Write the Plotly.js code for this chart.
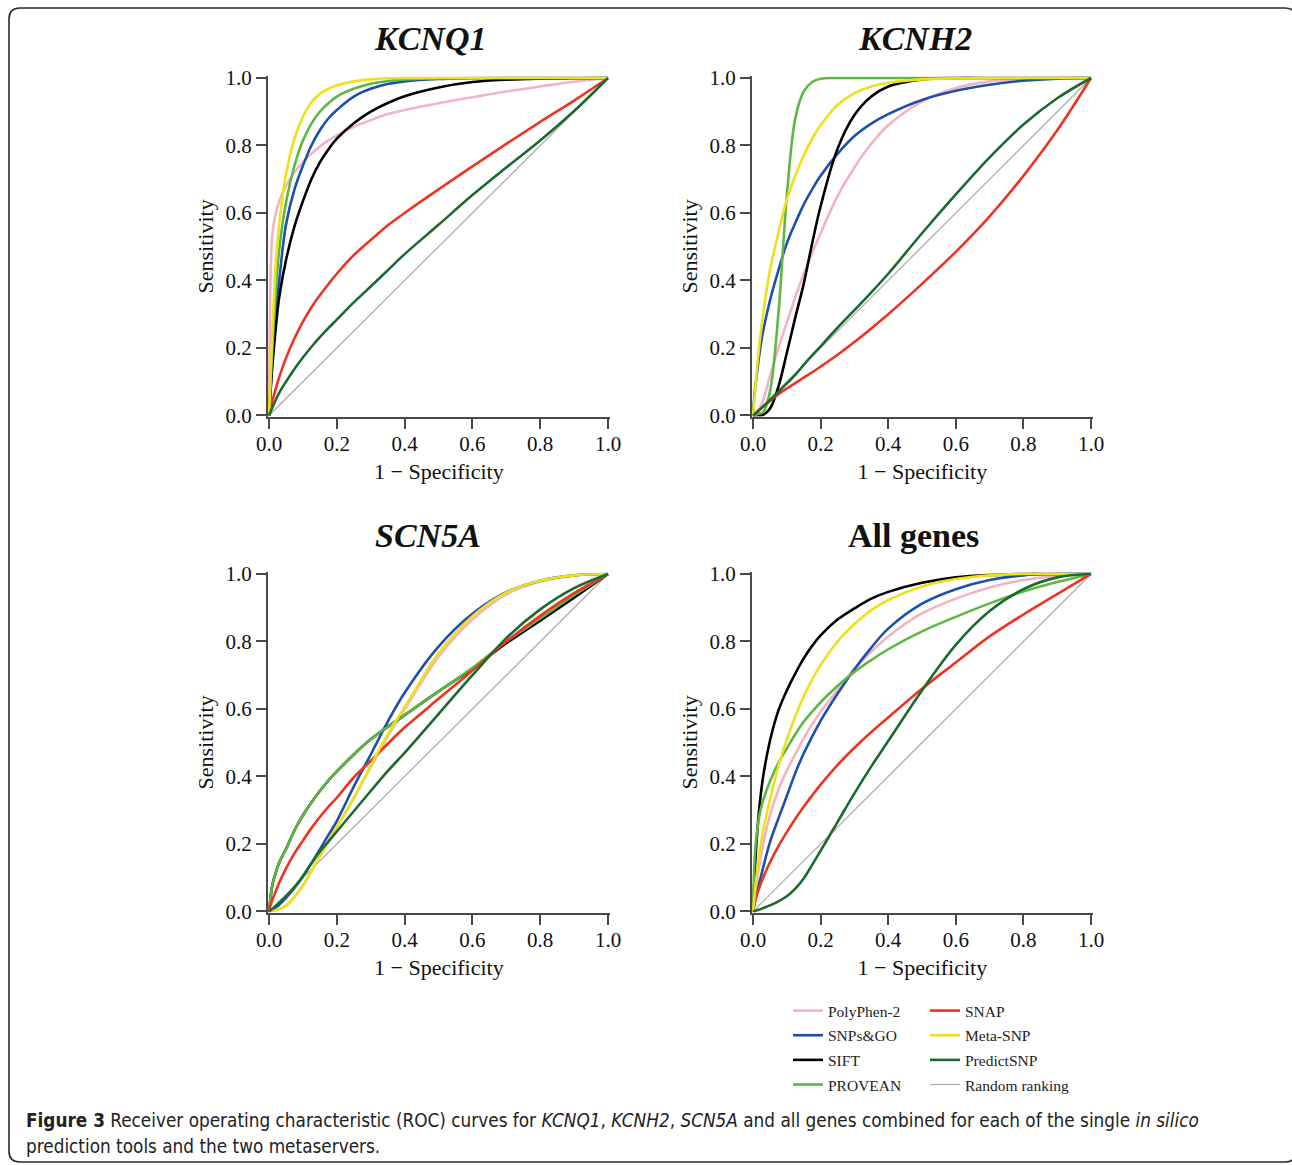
<!DOCTYPE html>
<html>
<head>
<meta charset="utf-8">
<script src="https://cdn.plot.ly/plotly-3.0.1.min.js"></script>
<style>html,body{margin:0;padding:0;background:#fff}#chart{width:1292px;height:1165px}</style>
</head>
<body>
<div id="chart"></div>
<script>
// ---- data: false positive rate grid (1 - Specificity) shared by all curves ----
const fpr = [0, 0.005, 0.01, 0.02, 0.03, 0.05, 0.075, 0.1, 0.125, 0.15, 0.175, 0.2, 0.25, 0.3, 0.35, 0.4, 0.5, 0.6, 0.7, 0.8, 0.9, 1];
const randomX = [0, 1];
const randomY = [0, 1];

// KCNQ1 sensitivities
const kcnq1_polyphen   = [0, 0.42, 0.54, 0.60, 0.635, 0.68, 0.72, 0.75, 0.775, 0.797, 0.815, 0.83, 0.855, 0.875, 0.893, 0.905, 0.925, 0.943, 0.96, 0.975, 0.989, 1];
const kcnq1_snpsgo     = [0, 0.08, 0.16, 0.30, 0.40, 0.565, 0.67, 0.74, 0.80, 0.845, 0.88, 0.905, 0.945, 0.968, 0.982, 0.99, 0.997, 0.999, 1, 1, 1, 1];
const kcnq1_sift       = [0, 0.08, 0.15, 0.26, 0.35, 0.46, 0.56, 0.635, 0.70, 0.75, 0.788, 0.82, 0.866, 0.90, 0.926, 0.946, 0.972, 0.988, 0.995, 0.998, 0.999, 1];
const kcnq1_provean    = [0, 0.10, 0.20, 0.37, 0.49, 0.63, 0.74, 0.815, 0.865, 0.9, 0.925, 0.945, 0.968, 0.983, 0.991, 0.996, 0.999, 1, 1, 1, 1, 1];
const kcnq1_snap       = [0, 0.022, 0.043, 0.08, 0.113, 0.17, 0.228, 0.278, 0.32, 0.356, 0.389, 0.42, 0.475, 0.52, 0.563, 0.60, 0.67, 0.738, 0.805, 0.87, 0.933, 1];
const kcnq1_metasnp    = [0, 0.13, 0.25, 0.45, 0.565, 0.715, 0.82, 0.885, 0.928, 0.953, 0.968, 0.978, 0.99, 0.996, 0.999, 1, 1, 1, 1, 1, 1, 1];
const kcnq1_predictsnp = [0, 0.012, 0.024, 0.046, 0.067, 0.1, 0.138, 0.172, 0.203, 0.232, 0.259, 0.284, 0.335, 0.382, 0.43, 0.478, 0.565, 0.653, 0.735, 0.815, 0.902, 1];

// KCNH2 sensitivities
const kcnh2_polyphen   = [0, 0.003, 0.008, 0.022, 0.045, 0.115, 0.20, 0.275, 0.35, 0.42, 0.482, 0.54, 0.65, 0.735, 0.805, 0.86, 0.93, 0.97, 0.99, 0.997, 1, 1];
const kcnh2_snpsgo     = [0, 0.07, 0.11, 0.19, 0.25, 0.34, 0.43, 0.51, 0.57, 0.625, 0.67, 0.71, 0.775, 0.828, 0.865, 0.893, 0.935, 0.962, 0.98, 0.992, 0.998, 1];
const kcnh2_sift       = [0, 0, 0, 0, 0.002, 0.02, 0.085, 0.185, 0.29, 0.39, 0.51, 0.62, 0.79, 0.89, 0.945, 0.975, 0.996, 1, 1, 1, 1, 1];
const kcnh2_provean    = [0, 0.001, 0.003, 0.006, 0.01, 0.07, 0.30, 0.65, 0.88, 0.96, 0.988, 0.998, 1, 1, 1, 1, 1, 1, 1, 1, 1, 1];
const kcnh2_snap       = [0, 0.004, 0.008, 0.017, 0.026, 0.043, 0.063, 0.08, 0.096, 0.112, 0.128, 0.145, 0.18, 0.218, 0.258, 0.30, 0.39, 0.485, 0.59, 0.71, 0.845, 1];
const kcnh2_metasnp    = [0, 0.06, 0.12, 0.22, 0.30, 0.43, 0.54, 0.64, 0.71, 0.77, 0.82, 0.86, 0.92, 0.955, 0.975, 0.986, 0.996, 0.999, 1, 1, 1, 1];
const kcnh2_predictsnp = [0, 0.004, 0.009, 0.018, 0.027, 0.045, 0.07, 0.095, 0.12, 0.15, 0.178, 0.205, 0.26, 0.312, 0.365, 0.42, 0.54, 0.655, 0.765, 0.862, 0.94, 1];

// SCN5A sensitivities
const scn5a_polyphen   = [0, 0.001, 0.002, 0.004, 0.007, 0.017, 0.043, 0.077, 0.12, 0.163, 0.208, 0.25, 0.335, 0.428, 0.518, 0.598, 0.755, 0.865, 0.94, 0.978, 0.995, 1];
const scn5a_snpsgo     = [0, 0.002, 0.005, 0.012, 0.02, 0.04, 0.07, 0.104, 0.143, 0.184, 0.226, 0.268, 0.37, 0.465, 0.562, 0.648, 0.785, 0.882, 0.946, 0.98, 0.996, 1];
const scn5a_sift       = [0, 0.045, 0.08, 0.115, 0.145, 0.185, 0.24, 0.285, 0.323, 0.357, 0.388, 0.415, 0.465, 0.51, 0.547, 0.582, 0.652, 0.72, 0.795, 0.862, 0.93, 1];
const scn5a_provean    = [0, 0.045, 0.08, 0.115, 0.145, 0.185, 0.24, 0.285, 0.323, 0.357, 0.388, 0.415, 0.465, 0.51, 0.547, 0.582, 0.652, 0.722, 0.80, 0.868, 0.937, 1];
const scn5a_snap       = [0, 0.02, 0.035, 0.06, 0.085, 0.127, 0.172, 0.21, 0.247, 0.28, 0.31, 0.337, 0.397, 0.446, 0.497, 0.545, 0.63, 0.714, 0.80, 0.876, 0.943, 1];
const scn5a_metasnp    = [0, 0.001, 0.002, 0.004, 0.007, 0.017, 0.043, 0.077, 0.12, 0.163, 0.208, 0.25, 0.337, 0.432, 0.525, 0.605, 0.765, 0.875, 0.945, 0.98, 0.996, 1];
const scn5a_predictsnp = [0, 0.004, 0.008, 0.017, 0.026, 0.045, 0.072, 0.105, 0.142, 0.177, 0.207, 0.237, 0.297, 0.357, 0.416, 0.47, 0.585, 0.70, 0.81, 0.895, 0.958, 1];

// All genes sensitivities
const all_polyphen     = [0, 0.04, 0.08, 0.145, 0.2, 0.285, 0.36, 0.418, 0.465, 0.513, 0.555, 0.592, 0.656, 0.718, 0.77, 0.815, 0.883, 0.927, 0.96, 0.982, 0.995, 1];
const all_snpsgo       = [0, 0.025, 0.048, 0.09, 0.13, 0.205, 0.275, 0.342, 0.41, 0.468, 0.518, 0.565, 0.645, 0.718, 0.782, 0.838, 0.912, 0.955, 0.982, 0.996, 1, 1];
const all_sift         = [0, 0.11, 0.2, 0.32, 0.4, 0.505, 0.595, 0.655, 0.705, 0.75, 0.787, 0.818, 0.865, 0.898, 0.927, 0.947, 0.974, 0.99, 0.997, 1, 1, 1];
const all_provean      = [0, 0.16, 0.22, 0.29, 0.33, 0.385, 0.44, 0.483, 0.525, 0.562, 0.592, 0.62, 0.668, 0.71, 0.745, 0.777, 0.83, 0.873, 0.913, 0.948, 0.976, 1];
const all_snap         = [0, 0.025, 0.045, 0.075, 0.1, 0.145, 0.193, 0.235, 0.274, 0.31, 0.344, 0.376, 0.434, 0.485, 0.532, 0.575, 0.66, 0.738, 0.815, 0.88, 0.94, 1];
const all_metasnp      = [0, 0.05, 0.1, 0.18, 0.24, 0.33, 0.43, 0.51, 0.578, 0.637, 0.688, 0.73, 0.8, 0.852, 0.893, 0.923, 0.963, 0.985, 0.996, 1, 1, 1];
const all_predictsnp   = [0, 0.001, 0.003, 0.006, 0.01, 0.018, 0.03, 0.045, 0.068, 0.098, 0.138, 0.18, 0.265, 0.35, 0.43, 0.505, 0.655, 0.79, 0.89, 0.955, 0.99, 1];

const panelTitles = ['<b><i>KCNQ1</i></b>', '<b><i>KCNH2</i></b>', '<b><i>SCN5A</i></b>', '<b>All genes</b>'];
const toolNames = ['PolyPhen-2', 'SNPs&GO', 'SIFT', 'PROVEAN', 'SNAP', 'Meta-SNP', 'PredictSNP'];
const randomName = 'Random ranking';

const panelData = [
  [kcnq1_polyphen, kcnq1_snpsgo, kcnq1_sift, kcnq1_provean, kcnq1_snap, kcnq1_metasnp, kcnq1_predictsnp],
  [kcnh2_polyphen, kcnh2_snpsgo, kcnh2_sift, kcnh2_provean, kcnh2_snap, kcnh2_metasnp, kcnh2_predictsnp],
  [scn5a_polyphen, scn5a_snpsgo, scn5a_sift, scn5a_provean, scn5a_snap, scn5a_metasnp, scn5a_predictsnp],
  [all_polyphen, all_snpsgo, all_sift, all_provean, all_snap, all_metasnp, all_predictsnp]
];

// ---- styles ----
const toolColors = ['#F4B3C0', '#1F4FAE', '#000000', '#5DB842', '#EE3322', '#EEE11A', '#1B6B2F'];
const toolLegend = ['legend', 'legend', 'legend', 'legend', 'legend2', 'legend2', 'legend2'];
const toolRank   = [1, 2, 3, 4, 1, 2, 3];
const serif = 'Liberation Serif, Times New Roman, serif';
const W = 1292, H = 1165;
const px = v => v / W;
const py = v => 1 - v / H;

// plot-area boxes in pixels
const panels = [
  {x0: 268, x1: 609.7, y0: 76.3, y1: 416.5},
  {x0: 752, x1: 1092.7, y0: 76.3, y1: 416.5},
  {x0: 268, x1: 609.7, y0: 572.3, y1: 912.5},
  {x0: 752, x1: 1092.7, y0: 572.3, y1: 912.5}
];
const titleCenters = [[430, 38], [915, 38], [428, 535], [914, 535]];

const traces = [];
panels.forEach((p, i) => {
  const xa = i === 0 ? 'x' : 'x' + (i + 1);
  const ya = i === 0 ? 'y' : 'y' + (i + 1);
  traces.push({
    x: randomX, y: randomY, type: 'scatter', mode: 'lines', name: randomName,
    xaxis: xa, yaxis: ya, legend: 'legend2', legendgroup: randomName, legendrank: 4,
    showlegend: i === 0, hoverinfo: 'skip',
    line: {color: '#A9A9A9', width: 1.2}
  });
  toolNames.forEach((name, k) => {
    traces.push({
      x: fpr, y: panelData[i][k], type: 'scatter', mode: 'lines', name: name,
      xaxis: xa, yaxis: ya, legend: toolLegend[k], legendgroup: name, legendrank: toolRank[k],
      showlegend: i === 0,
      line: {color: toolColors[k], width: 2.6, shape: 'spline', smoothing: 1}
    });
  });
});

const axisBase = {
  range: [-0.003, 1.005], showgrid: false, zeroline: false, showline: true,
  linecolor: '#4a4a4a', linewidth: 2, ticks: 'outside', ticklen: 10, tickwidth: 2,
  tickcolor: '#4a4a4a', tick0: 0, dtick: 0.2, tickformat: '.1f',
  tickfont: {family: serif, size: 21, color: '#111'}, fixedrange: true, automargin: false
};

const legendBase = {xanchor: 'left', yanchor: 'top', bgcolor: 'rgba(0,0,0,0)',
  font: {family: serif, size: 15.5, color: '#222'}, tracegroupgap: 1.5, itemwidth: 30, traceorder: 'grouped'};

const layout = {
  width: W, height: H, margin: {l: 0, r: 0, t: 0, b: 0},
  paper_bgcolor: '#ffffff', plot_bgcolor: '#ffffff',
  font: {family: serif, color: '#111'},
  showlegend: true,
  legend: Object.assign({x: px(788), y: py(994)}, legendBase),
  legend2: Object.assign({x: px(925), y: py(994)}, legendBase),
  annotations: [],
  shapes: []
};

panels.forEach((p, i) => {
  const sfx = i === 0 ? '' : String(i + 1);
  layout['xaxis' + sfx] = Object.assign({}, axisBase, {
    domain: [px(p.x0), px(p.x1)], anchor: 'y' + sfx, ticklabelstandoff: -3,
    title: {text: '1 \u2212 Specificity', font: {family: serif, size: 22, color: '#111'}, standoff: 9}
  });
  layout['yaxis' + sfx] = Object.assign({}, axisBase, {
    domain: [py(p.y1), py(p.y0)], anchor: 'x' + sfx,
    title: {text: 'Sensitivity', font: {family: serif, size: 22, color: '#111'}, standoff: 6}
  });
  layout.annotations.push({
    xref: 'paper', yref: 'paper', x: px(titleCenters[i][0]), y: py(titleCenters[i][1]),
    xanchor: 'center', yanchor: 'middle', showarrow: false,
    text: panelTitles[i], font: {family: serif, size: 34, color: '#111'}
  });
});

// caption
const sans = 'Liberation Sans Narrow, DejaVu Sans Condensed, Open Sans, sans-serif';
layout.annotations.push({
  xref: 'paper', yref: 'paper', x: px(24), y: py(1120), xanchor: 'left', yanchor: 'middle',
  showarrow: false, align: 'left', font: {family: sans, size: 18.8, color: '#222'},
  text: '<b>Figure 3</b> Receiver operating characteristic (ROC) curves for <i>KCNQ1</i>, <i>KCNH2</i>, <i>SCN5A</i> and all genes combined for each of the single <i>in silico</i>'
});
layout.annotations.push({
  xref: 'paper', yref: 'paper', x: px(24), y: py(1146), xanchor: 'left', yanchor: 'middle',
  showarrow: false, align: 'left', font: {family: sans, size: 18.8, color: '#222'},
  text: 'prediction tools and the two metaservers.'
});

// rounded frame around the figure
(function () {
  const L = 9, T = 8, R = 1296, B = 1162, r = 11;
  const path = 'M ' + px(L) + ',' + py(T + r) +
    ' Q ' + px(L) + ',' + py(T) + ' ' + px(L + r) + ',' + py(T) +
    ' L ' + px(R - r) + ',' + py(T) +
    ' Q ' + px(R) + ',' + py(T) + ' ' + px(R) + ',' + py(T + r) +
    ' L ' + px(R) + ',' + py(B - r) +
    ' Q ' + px(R) + ',' + py(B) + ' ' + px(R - r) + ',' + py(B) +
    ' L ' + px(L + r) + ',' + py(B) +
    ' Q ' + px(L) + ',' + py(B) + ' ' + px(L) + ',' + py(B - r) + ' Z';
  layout.shapes.push({type: 'path', xref: 'paper', yref: 'paper', path: path,
    line: {color: '#2a2a2a', width: 1.6}, fillcolor: 'rgba(0,0,0,0)', layer: 'below'});
})();

Plotly.newPlot('chart', traces, layout, {displayModeBar: false, staticPlot: true});
</script>
</body>
</html>
